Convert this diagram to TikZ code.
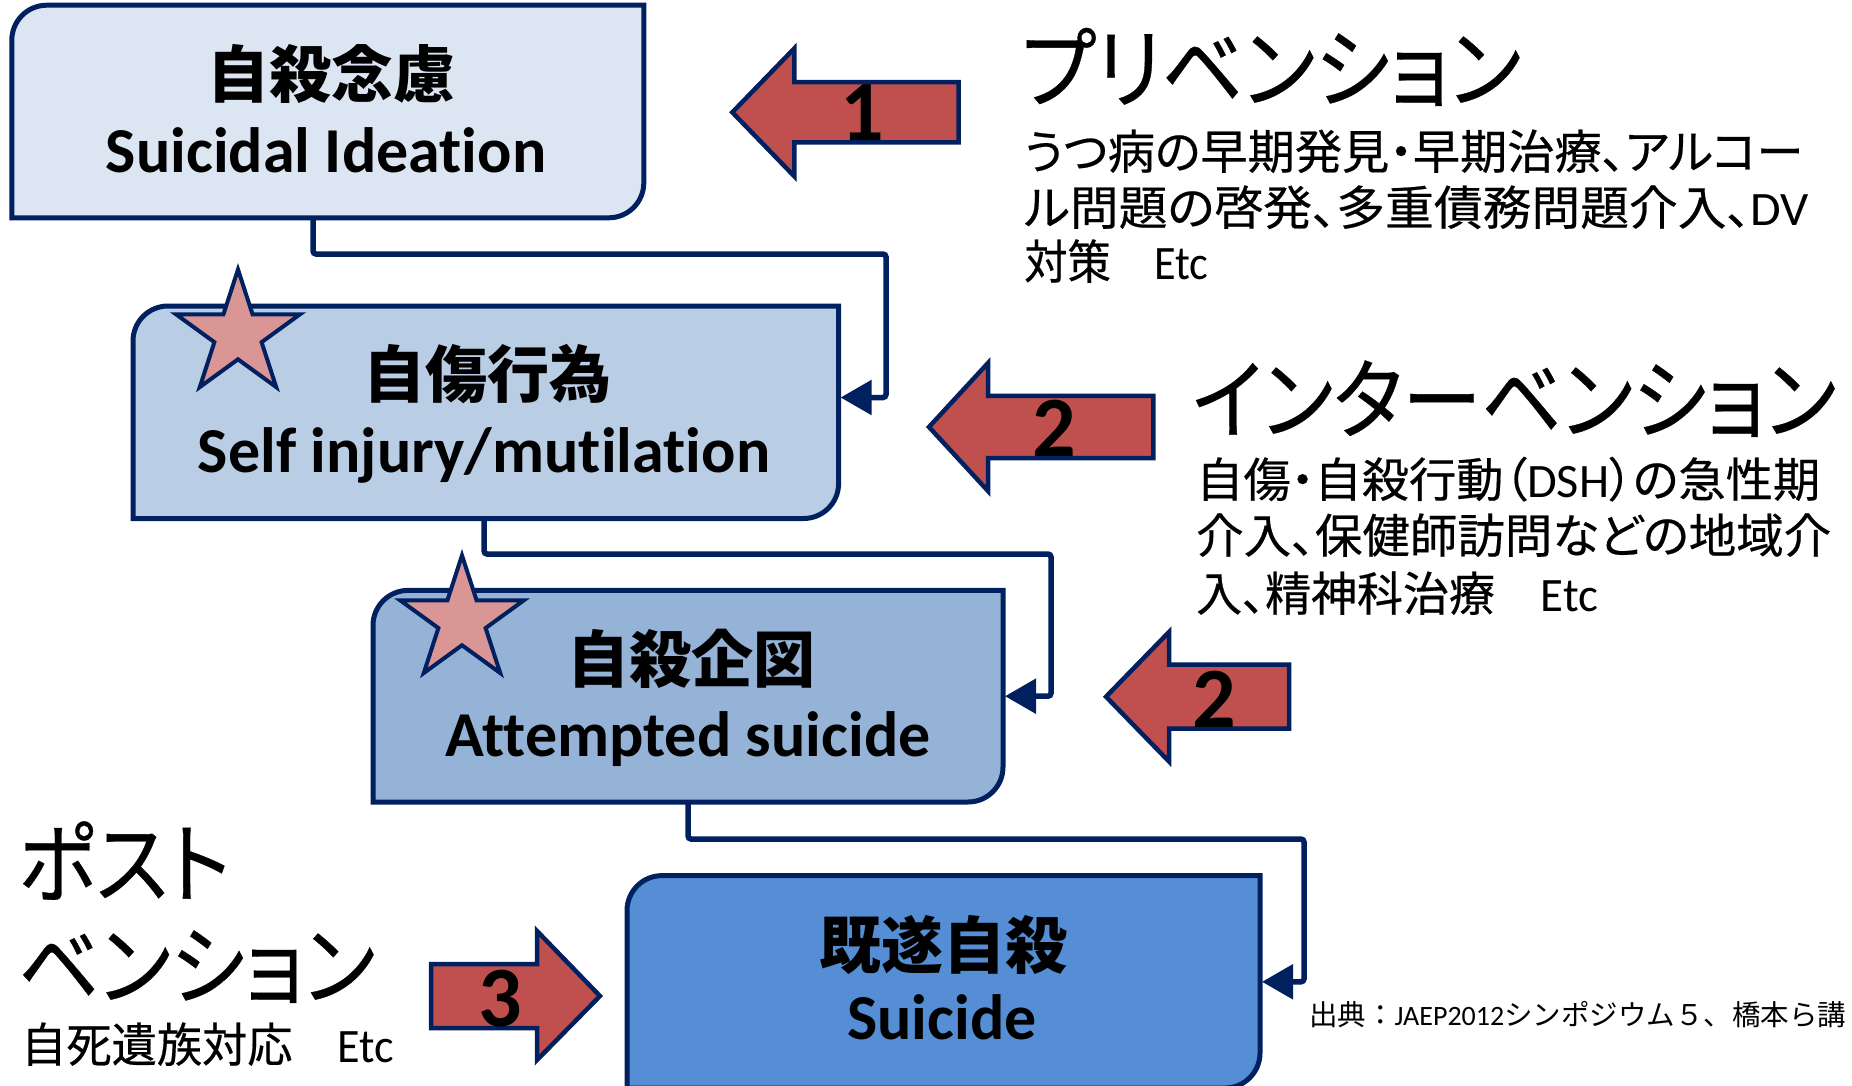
\documentclass[tikz,border=0pt]{standalone}
\usepackage{fontspec}
\setmainfont{Carlito}[Ligatures=NoCommon]
\newfontfamily\jp{Noto Sans CJK JP}[RawFeature=+palt]
\newfontfamily\jpn{Noto Sans CJK JP}
\newfontfamily\jpr{Noto Sans CJK JP}[RawFeature=+palt, FakeBold=0.4]
\usetikzlibrary{arrows.meta,shapes.geometric}
\definecolor{navy}{HTML}{002060}
\definecolor{boxA}{HTML}{DCE6F2}
\definecolor{boxB}{HTML}{B9CDE5}
\definecolor{boxC}{HTML}{95B3D7}
\definecolor{boxD}{HTML}{558ED5}
\definecolor{arrred}{HTML}{C0504D}
\definecolor{starpink}{HTML}{D99694}
\newcommand{\fitw}[2]{\resizebox{#1}{\height}{#2}}
\newcommand{\latn}[1]{{\rmfamily\fontsize{48}{48}\selectfont #1}}
\newcommand{\rdbox}[2]{\draw[boxline,fill=#2] (#1.south west) -- (#1.west) {[rounded corners=35pt] -- (#1.north west) -- (#1.north)} -- (#1.north east) -- (#1.east) {[rounded corners=35pt] -- (#1.south east) -- (#1.south)} -- cycle;}
\tikzset{
  box/.style={rectangle, inner sep=0pt, outer sep=0pt, anchor=north west},
  boxline/.style={draw=navy, line width=5pt},
  conn/.style={draw=navy, line width=5.5pt, rounded corners=3pt, -{Triangle[length=31pt,width=34pt]}},
  blk/.style={draw=navy, line width=4.5pt, fill=arrred, line join=miter},
  num/.style={font=\bfseries\fontsize{86}{86}\selectfont, inner sep=0pt, anchor=base},
  jpbold/.style={font=\jp\bfseries\fontsize{62}{62}\selectfont, inner sep=0pt, anchor=center},
  enbold/.style={font=\bfseries\fontsize{64}{64}\selectfont, inner sep=0pt, anchor=base},
  title/.style={font=\jpr\fontsize{88}{88}\selectfont, inner sep=0pt, anchor=base west},
  body/.style={font=\jpr\fontsize{47}{47}\selectfont, inner sep=0pt, anchor=base west},
  cite/.style={font=\jpn\fontsize{28.5}{28.5}\selectfont, inner sep=0pt, anchor=base west},
  starn/.style={star, star points=5, star point ratio=2.618, draw=navy, line width=4pt, fill=starpink, minimum size=130pt, inner sep=0pt},
}
\begin{document}
\begin{tikzpicture}[x=1pt,y=-1pt]
\path[fill=white,use as bounding box] (0,0) rectangle (1852,1085);
% boxes
\node[box, minimum width=632pt, minimum height=212.6pt] (b1) at (11.8,5.2) {};
\node[box, minimum width=705.6pt, minimum height=212.5pt] (b2) at (133,306) {};
\node[box, minimum width=630pt, minimum height=211.6pt] (b3) at (373,590.4) {};
\node[box, minimum width=633pt, minimum height=212.4pt] (b4) at (627,875.6) {};
\rdbox{b1}{boxA}
\rdbox{b2}{boxB}
\rdbox{b3}{boxC}
\rdbox{b4}{boxD}
% box texts
\node[jpbold] (t1j) at (331,73.5) {自殺念慮};
\node[enbold] (t1e) at (326,172) {Suicidal Ideation};
\node[jpbold] (t2j) at (487,374) {自傷行為};
\node[enbold] (t2e) at (484,472) {Self injury/mutilation};
\node[jpbold] (t3j) at (691,658.6) {自殺企図};
\node[enbold] (t3e) at (688,756) {Attempted suicide};
\node[jpbold] (t4j) at (943,944.7) {既遂自殺};
\node[enbold] (t4e) at (942,1039.8) {Suicide};
% connectors
\coordinate (k1) at (886,254);
\coordinate (k2) at (1051,554);
\coordinate (k3) at (1304,839);
\draw[conn] ([xshift=301.2pt]b1.south west) |- (k1) |- ([yshift=14.75pt,xshift=2pt]b2.east);
\draw[conn] ([xshift=351pt]b2.south west) |- (k2) |- ([xshift=2pt]b3.east);
\draw[conn] ([xshift=315pt]b3.south west) |- (k3) |- ([xshift=2pt]b4.east);
% stars
\node[starn] (s1) at (238,334.5) {};
\node[starn] (s2) at (462,620.4) {};
% block arrows
\draw[blk] (958.5,82) -- (794.3,82) -- (794.3,48.4) -- (732.3,112.3) -- (794.3,176.3) -- (794.3,142.4) -- (958.5,142.4) -- cycle;
\draw[blk] (1153.4,395.8) -- (988,395.8) -- (988,363) -- (929,427) -- (988,491) -- (988,458) -- (1153.4,458) -- cycle;
\draw[blk] (1289,664.7) -- (1169,664.7) -- (1169,632) -- (1106,696.7) -- (1169,761.5) -- (1169,728.7) -- (1289,728.7) -- cycle;
\draw[blk] (431,964) -- (537,964) -- (537,931) -- (600,996) -- (537,1060) -- (537,1028) -- (431,1028) -- cycle;
\node[num] (n1) at (862,140) {1};
\node[num] (n2a) at (1054,456) {2};
\node[num] (n2b) at (1214,727) {2};
\node[num] (n3) at (500,1026) {3};
% prevention
\node[title] (pt) at (1021,101) {\fitw{500pt}{プリベンション}};
\node[body] (p1) at (1024,169) {\fitw{779pt}{うつ病の早期発見・早期治療、アルコー}};
\node[body] (p2) at (1024,225) {\fitw{785pt}{ル問題の啓発、多重債務問題介入、\latn{DV}}};
\node[body] (p3) at (1024,279) {\fitw{184pt}{対策　\latn{Etc}}};
% intervention
\node[title] (it) at (1192,432) {\fitw{644pt}{インターベンション}};
\node[body] (i1) at (1196,497) {\fitw{624pt}{自傷・自殺行動（\latn{DSH}）の急性期}};
\node[body] (i2) at (1196,553) {\fitw{635pt}{介入、保健師訪問などの地域介}};
\node[body] (i3) at (1196,611) {\fitw{402pt}{入、精神科治療　\latn{Etc}}};
% postvention
\node[title] (qt1) at (18,896) {\fitw{212pt}{ポスト}};
\node[title] (qt2) at (18,998) {\fitw{357pt}{ベンション}};
\node[body] (q1) at (21,1062) {\fitw{373pt}{自死遺族対応　\latn{Etc}}};
% citation
\node[cite] (c1) at (1309,1025) {出典：{\rmfamily\fontsize{28}{28}\selectfont JAEP2012}シンポジウム５、橋本ら講};
\end{tikzpicture}
\end{document}
